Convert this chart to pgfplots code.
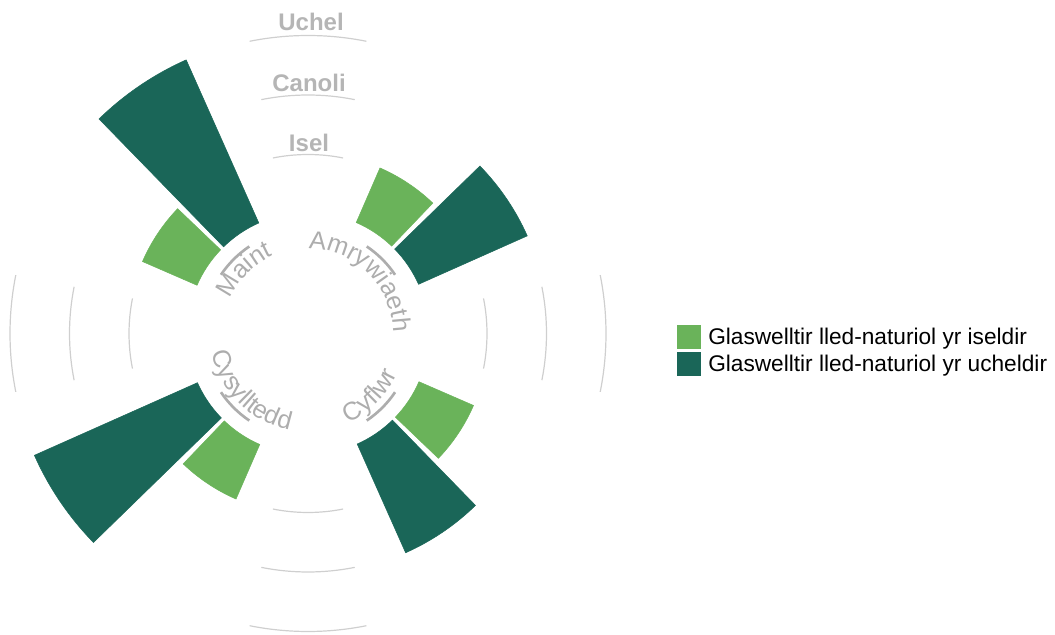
\documentclass[border=0pt]{standalone}
\usepackage{pgfplots}
\pgfplotsset{compat=1.18}
\usepackage{pgfplotstable}
\usepackage{fontspec}
\setmainfont{Liberation Sans}
\usetikzlibrary{decorations.text}
\definecolor{lightg}{HTML}{6AB35A}
\definecolor{darkg}{HTML}{1A6658}
\definecolor{gridgray}{HTML}{CFCFCF}
\definecolor{labgray}{HTML}{ADADAD}
\definecolor{lvlgray}{HTML}{B5B5B5}
\newcommand\catfont{\fontsize{19}{22}\selectfont\color{labgray}}

% series: angles of each sector (degrees, counter-clockwise from east), value 0..3
\pgfplotstableread{
cat a1 a2 val
Amrywiaeth 66.5 46.25 1
Cyflwr -23.5 -43.75 1
Cysylltedd -113.5 -133.75 1
Maint 156.5 136.25 1
}\iseldir
\pgfplotstableread{
cat a1 a2 val
Amrywiaeth 44.25 24 2
Cyflwr -45.75 -66 2
Cysylltedd -135.75 -156 3
Maint 134.25 114 3
}\ucheldir
\pgfplotstableread{
c val
90 1
90 2
90 3
0 1
0 2
0 3
-90 1
-90 2
-90 3
180 1
180 2
180 3
}\gridarcs
\pgfplotstableread{
c r
45 105
-45 105
-135 105
135 105
}\tickarcs

\pgfplotsset{
  hiddenmark/.style={only marks, scatter, mark=text, text mark={}, forget plot},
  sector/.style={hiddenmark,
    visualization depends on={\thisrow{a1} \as \aone},
    visualization depends on={\thisrow{a2} \as \atwo},
    visualization depends on={\thisrow{val} \as \vv},
    scatter/@pre marker code/.code={%
      \pgfmathsetmacro\ro{(121+59.5*\vv)*0.75}%
      \fill[#1] (\aone:90.75pt) arc[start angle=\aone,end angle=\atwo,radius=90.75pt]
        -- (\atwo:\ro pt) arc[start angle=\atwo,end angle=\aone,radius=\ro pt] -- cycle;
    },
    scatter/@post marker code/.code={}},
  gridarc/.style={hiddenmark,
    visualization depends on={\thisrow{c} \as \cc},
    visualization depends on={\thisrow{val} \as \vv},
    scatter/@pre marker code/.code={%
      \pgfmathsetmacro\ro{(119.5+59.5*\vv)*0.75}%
      \pgfmathsetmacro\sa{\cc+11.3}\pgfmathsetmacro\ea{\cc-11.3}%
      \draw[gridgray, line width=0.9pt] (\sa:\ro pt) arc[start angle=\sa,end angle=\ea,radius=\ro pt];
    },
    scatter/@post marker code/.code={}},
  tickarc/.style={hiddenmark,
    visualization depends on={\thisrow{c} \as \cc},
    visualization depends on={\thisrow{r} \as \rr},
    scatter/@pre marker code/.code={%
      \pgfmathsetmacro\ro{\rr*0.75}%
      \pgfmathsetmacro\sa{\cc+11}\pgfmathsetmacro\ea{\cc-11}%
      \draw[labgray, line width=2pt] (\sa:\ro pt) arc[start angle=\sa,end angle=\ea,radius=\ro pt];
    },
    scatter/@post marker code/.code={}},
}

\begin{document}
\begin{tikzpicture}
\begin{axis}[
  width=791.25pt, height=475.5pt, scale only axis,
  xmin=0, xmax=1055, ymin=0, ymax=634,
  axis lines=none, ticks=none, clip=false,
  point meta min=0, point meta max=10,
  legend style={at={(axis cs:677,309)}, anchor=north west, draw=none, fill=none,
    inner sep=0pt, row sep=2.25pt, column sep=5.25pt,
    font=\fontsize{17}{20}\selectfont, nodes={inner sep=0pt}},
  legend cell align=left,
  legend image code/.code={\fill[#1] (0pt,-9pt) rectangle (18pt,9pt);},
]
\path (axis cs:0,0) rectangle (axis cs:1055,634);
\addplot[gridarc] table[x expr=308, y expr=300.5] {\gridarcs};
\addplot[tickarc] table[x expr=308, y expr=300.5] {\tickarcs};
\addplot[sector=lightg] table[x expr=308, y expr=300.5] {\iseldir};
\addplot[sector=darkg] table[x expr=308, y expr=300.5] {\ucheldir};
\addlegendimage{fill=lightg, draw=none}
\addlegendentry{Glaswelltir lled-naturiol yr iseldir}
\addlegendimage{fill=darkg, draw=none}
\addlegendentry{Glaswelltir lled-naturiol yr ucheldir}

\node[font=\bfseries\fontsize{18}{20}\selectfont, text=lvlgray, inner sep=0pt] at (axis cs:309,491.5) {Isel};
\node[font=\bfseries\fontsize{18}{20}\selectfont, text=lvlgray, inner sep=0pt] at (axis cs:309,551) {Canoli};
\node[font=\bfseries\fontsize{18}{20}\selectfont, text=lvlgray, inner sep=0pt] at (axis cs:311,612.3) {Uchel};

\path[decorate, decoration={text along path, text align=center, text={|\catfont|Amrywiaeth}}]
  (axis cs:308,300.5) ++(105:63.75pt) arc[start angle=105, end angle=-15, radius=63.75pt];
\path[decorate, decoration={text along path, text align=center, text={|\catfont|Maint}}]
  (axis cs:308,300.5) ++(195:63.75pt) arc[start angle=195, end angle=75, radius=63.75pt];
\path[decorate, decoration={text along path, text align=center, text={|\catfont|Cyflwr}}]
  (axis cs:308,300.5) ++(-105:73.5pt) arc[start angle=-105, end angle=15, radius=73.5pt];
\path[decorate, decoration={text along path, text align=center, text={|\catfont|Cysylltedd}}]
  (axis cs:308,300.5) ++(-195:73.5pt) arc[start angle=-195, end angle=-75, radius=73.5pt];
\end{axis}
\end{tikzpicture}
\end{document}
